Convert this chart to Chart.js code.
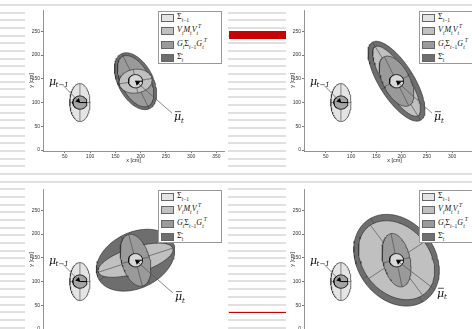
<!DOCTYPE html>
<html>
<head>
<meta charset="utf-8">
<script src="https://cdn.jsdelivr.net/npm/chart.js@4.4.0/dist/chart.umd.min.js"></script>
<style>
html, body { margin: 0; padding: 0; }
body {
  width: 472px; height: 329px; overflow: hidden; position: relative;
  background: repeating-linear-gradient(to bottom, #fff 0, #fff 4px, #e0e0e0 4px, #e0e0e0 6px, #fff 6px, #fff 7.68px);
}
.panel { position: absolute; background: #fff; width: 203px; height: 163px; }
.panel canvas { position: absolute; left: 0; top: 0; }
.legend {
  position: absolute; left: 133px; top: 5px; width: 62px; height: 51px;
  border: 1px solid #999; background: #fff;
  font-family: "Liberation Serif", "DejaVu Serif", serif; font-size: 8px; color: #111;
}
.row { position: absolute; left: 2px; height: 8px; width: 60px; }
.sw { position: absolute; left: 0; top: 0; width: 11px; height: 6px; border: 1px solid #666; }
.lab { position: absolute; left: 16px; top: -1px; white-space: nowrap; line-height: 8px; }
.lab sub, .lab sup { font-size: 5.5px; line-height: 0; }
.red-bar { position: absolute; left: 229px; top: 31px; width: 57px; height: 7.5px; background: #c80000; }
.red-line { position: absolute; left: 229px; top: 311.5px; width: 57px; height: 1.5px; background: #c80000; }
</style>
</head>
<body>
<div class="red-bar"></div>
<div class="red-line"></div>
<div class="panel" style="left:25px;top:6px"><canvas id="c0" width="203" height="163"></canvas></div>
<div class="panel" style="left:286px;top:6px"><canvas id="c1" width="203" height="163"></canvas></div>
<div class="panel" style="left:25px;top:185px"><canvas id="c2" width="203" height="163"></canvas></div>
<div class="panel" style="left:286px;top:185px"><canvas id="c3" width="203" height="163"></canvas></div>
<script>
// axes
const xTicks = [50, 100, 150, 200, 250, 300, 350];
const yTicks = [0, 50, 100, 150, 200, 250];
const xRange = [7, 365];
const yRange = [-2, 295];

// previous belief (same in every panel)
const priorMean = [80, 100];
const priorCov = [20, 40, 0];          // semi-axis a, semi-axis b, angle in degrees
const meanRadius = 14;
const predMean = [190, 145];

// one entry per panel: top-left, top-right, bottom-left, bottom-right
const sigmaBar = [[64, 35, 115], [95, 35, 120], [83, 58, 30], [102, 78, 120]];
const motionCov = [[33, 25, 10], [84, 25, 120], [78, 27, 19], [90, 67, 125]];
const predCov = [[58, 29, 115], [57, 27, 115], [56, 28, 104], [57, 27, 101]];

// annotation anchors
const priorLabel = [19, 138];
const priorLeader = [47, 136];
const predLabel = [[266, 63], [264, 63], [268, 61], [270, 68]];

const legendLabels = [
  'Σ<sub><i>t</i>−1</sub>',
  '<i>V<sub>t</sub>M<sub>t</sub>V<sub>t</sub><sup>T</sup></i>',
  '<i>G<sub>t</sub></i>Σ<sub><i>t</i>−1</sub><i>G<sub>t</sub><sup>T</sup></i>',
  'Σ̄<sub><i>t</i></sub>'
];
const fillColors = ['#e4e4e4', '#c0c0c0', '#9a9a9a', '#6e6e6e'];
const rowTops = [2, 15.3, 28.7, 42];

function ellipsePts(c, e) {
  const pts = [];
  const th = e[2] * Math.PI / 180;
  for (let k = 0; k <= 96; k++) {
    const t = k / 96 * 2 * Math.PI;
    const u = e[0] * Math.cos(t), v = e[1] * Math.sin(t);
    pts.push({ x: c[0] + u * Math.cos(th) - v * Math.sin(th), y: c[1] + u * Math.sin(th) + v * Math.cos(th) });
  }
  return pts;
}

function axisPts(c, e, alongB) {
  const th = (e[2] + (alongB ? 90 : 0)) * Math.PI / 180;
  const r = alongB ? e[1] : e[0];
  return [
    { x: c[0] - r * Math.cos(th), y: c[1] - r * Math.sin(th) },
    { x: c[0] + r * Math.cos(th), y: c[1] + r * Math.sin(th) }
  ];
}

function lineSet(data, color, width) {
  return { data, showLine: true, borderColor: color, borderWidth: width, pointRadius: 0, fill: false };
}

function ellipseSets(c, e, color) {
  return [
    { data: ellipsePts(c, e), showLine: true, fill: 'shape', backgroundColor: color,
      borderColor: '#333', borderWidth: 0.7, pointRadius: 0 },
    lineSet(axisPts(c, e, false), '#444', 0.6),
    lineSet(axisPts(c, e, true), '#444', 0.6)
  ];
}

function arrowSet(from, to) {
  const dx = to[0] - from[0], dy = to[1] - from[1];
  const len = Math.hypot(dx, dy);
  const back = 5;
  const rot = Math.atan2(dx * 0.506, dy * 0.48) * 180 / Math.PI;
  return [
    lineSet([{ x: from[0], y: from[1] }, { x: to[0], y: to[1] }], '#555', 0.7),
    { data: [{ x: to[0] - dx / len * back, y: to[1] - dy / len * back }], showLine: false,
      pointStyle: 'triangle', pointRadius: 3, pointRotation: rot,
      backgroundColor: '#000', borderColor: '#000', borderWidth: 0 }
  ];
}

function meanSets(c, color) {
  return [
    { data: ellipsePts(c, [meanRadius, meanRadius, 0]), showLine: true, fill: 'shape',
      backgroundColor: color, borderColor: '#111', borderWidth: 0.9, pointRadius: 0 },
    lineSet([{ x: c[0], y: c[1] }, { x: c[0] + meanRadius, y: c[1] }], '#000', 1)
  ];
}

const muLabels = {
  id: 'muLabels',
  afterDatasetsDraw(chart, args, opts) {
    const i = opts.panel;
    const sx = chart.scales.x, sy = chart.scales.y;
    const ctx = chart.ctx;
    ctx.save();
    ctx.fillStyle = '#111';
    ctx.strokeStyle = '#111';
    ctx.textBaseline = 'alphabetic';
    let px = sx.getPixelForValue(priorLabel[0]), py = sy.getPixelForValue(priorLabel[1]);
    ctx.font = 'italic 11px "DejaVu Serif"';
    ctx.fillText('μ', px, py);
    ctx.font = 'italic 7px "DejaVu Serif"';
    ctx.fillText('t−1', px + 6.5, py + 2.5);
    px = sx.getPixelForValue(predLabel[i][0]);
    py = sy.getPixelForValue(predLabel[i][1]);
    ctx.font = 'italic 11px "DejaVu Serif"';
    ctx.fillText('μ', px, py);
    ctx.lineWidth = 0.7;
    ctx.beginPath();
    ctx.moveTo(px + 1, py - 8.5);
    ctx.lineTo(px + 7, py - 8.5);
    ctx.stroke();
    ctx.font = 'italic 7px "DejaVu Serif"';
    ctx.fillText('t', px + 7, py + 2.5);
    ctx.restore();
  }
};

function makeChart(i) {
  const sets = [];
  // previous belief
  sets.push(...ellipseSets(priorMean, priorCov, fillColors[0]));
  sets.push(...meanSets(priorMean, '#a4a4a4'));
  // predicted belief: total first, then the two parts, larger one underneath
  sets.push(...ellipseSets(predMean, sigmaBar[i], fillColors[3]));
  const parts = [[motionCov[i], fillColors[1]], [predCov[i], fillColors[2]]];
  parts.sort((p, q) => q[0][0] * q[0][1] - p[0][0] * p[0][1]);
  parts.forEach(p => sets.push(...ellipseSets(predMean, p[0], p[1])));
  sets.push(...meanSets(predMean, '#d8d8d8'));
  // leaders with arrowheads
  sets.push(...arrowSet(priorLeader, priorMean));
  const lead = [predLabel[i][0] - 4, predLabel[i][1] + 15];
  sets.push(...arrowSet(lead, predMean));
  sets.forEach((s, k) => { s.order = -k; });

  const tickFont = { family: '"Liberation Sans", Arial, sans-serif', size: 5 };
  new Chart(document.getElementById('c' + i), {
    type: 'scatter',
    data: { datasets: sets },
    plugins: [muLabels],
    options: {
      responsive: false,
      animation: false,
      events: [],
      layout: { padding: { top: 3, right: 4, left: 0, bottom: 5.5 } },
      plugins: { legend: { display: false }, tooltip: { enabled: false }, muLabels: { panel: i } },
      elements: { line: { tension: 0 } },
      scales: {
        x: {
          type: 'linear', min: xRange[0], max: xRange[1],
          afterBuildTicks: s => { s.ticks = xTicks.map(v => ({ value: v })); },
          afterFit: s => { s.height = 12.5; },
          ticks: { font: tickFont, color: '#333', padding: 1, maxRotation: 0 },
          grid: { drawOnChartArea: false, tickLength: 2, color: '#777' },
          border: { color: '#777', width: 0.8 },
          title: { display: true, text: 'x [cm]', font: { family: tickFont.family, size: 5.5 }, color: '#222', padding: { top: 0, bottom: 0 } }
        },
        y: {
          type: 'linear', min: yRange[0], max: yRange[1],
          afterBuildTicks: s => { s.ticks = yTicks.map(v => ({ value: v })); },
          afterFit: s => { s.width = 18; },
          ticks: { font: tickFont, color: '#333', padding: 1 },
          grid: { drawOnChartArea: false, tickLength: 2, color: '#777' },
          border: { color: '#777', width: 0.8 },
          title: { display: true, text: 'y [cm]', font: { family: tickFont.family, size: 5.5 }, color: '#222', padding: { top: 3, bottom: 0 } }
        }
      }
    }
  });

  // boxed legend, as in the original figure
  const leg = document.createElement('div');
  leg.className = 'legend';
  legendLabels.forEach((t, k) => {
    const row = document.createElement('div');
    row.className = 'row';
    row.style.top = rowTops[k] + 'px';
    row.innerHTML = '<div class="sw" style="background:' + fillColors[k] + '"></div><div class="lab">' + t + '</div>';
    leg.appendChild(row);
  });
  document.getElementById('c' + i).parentNode.appendChild(leg);
}

[0, 1, 2, 3].forEach(makeChart);
</script>
</body>
</html>
